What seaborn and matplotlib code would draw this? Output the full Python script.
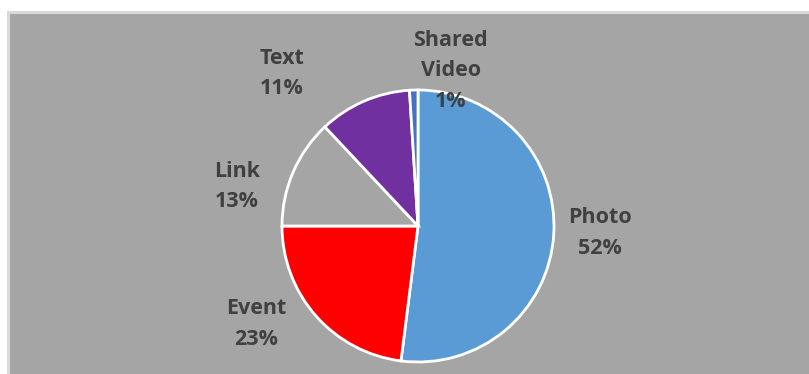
import matplotlib
matplotlib.use("Agg")
import matplotlib.pyplot as plt
from matplotlib.patches import Rectangle
import seaborn as sns

# Post types and their share of all posts (%)
categories = ["Photo", "Event", "Link", "Text", "Shared Video"]
shares = [52, 23, 13, 11, 1]
slice_colors = ["#5B9BD5", "#FF0000", "#A5A5A5", "#7030A0", "#4472C4"]
label_texts = ["Photo", "Event", "Link", "Text", "Shared\nVideo"]

sns.set_theme(style="white")
plt.rcParams["font.family"] = ["Open Sans", "DejaVu Sans"]

W, H, DPI = 809, 374, 100
fig = plt.figure(figsize=(W / DPI, H / DPI), dpi=DPI, facecolor="white")

# chart area with a thin light border on the top and left
bg = fig.add_axes([0, 0, 1, 1], zorder=-1)
bg.set_xlim(0, W)
bg.set_ylim(H, 0)
bg.axis("off")
bg.add_patch(Rectangle((8.5, 11.5), W + 20, H + 20, facecolor="#A5A5A5",
                       edgecolor="#D9D9D9", linewidth=2.2))

# pie occupies a square region centered near (418, 226) px
r_px = 136
cx, cy = 418, 226
ax = fig.add_axes([(cx - r_px) / W, (H - cy - r_px) / H, 2 * r_px / W, 2 * r_px / H])
ax.set_facecolor("none")

ax.pie(shares, colors=slice_colors, startangle=90, counterclock=False,
       wedgeprops=dict(edgecolor="white", linewidth=2.0))
ax.set_xlim(-1, 1)
ax.set_ylim(-1, 1)
ax.set_aspect("equal")
ax.axis("off")

# data label positions (in pie radius units)
label_pos = [(1.34, -0.05), (-1.19, -0.72), (-1.33, 0.29), (-1.00, 1.12), (0.24, 1.14)]
for txt, val, (x, y) in zip(label_texts, shares, label_pos):
    ax.text(x, y, f"{txt}\n{val}%", ha="center", va="center", fontsize=15.5,
            fontweight="bold", color="#404040", linespacing=1.6, clip_on=False)

fig.savefig("out.png", dpi=DPI, facecolor="white")
